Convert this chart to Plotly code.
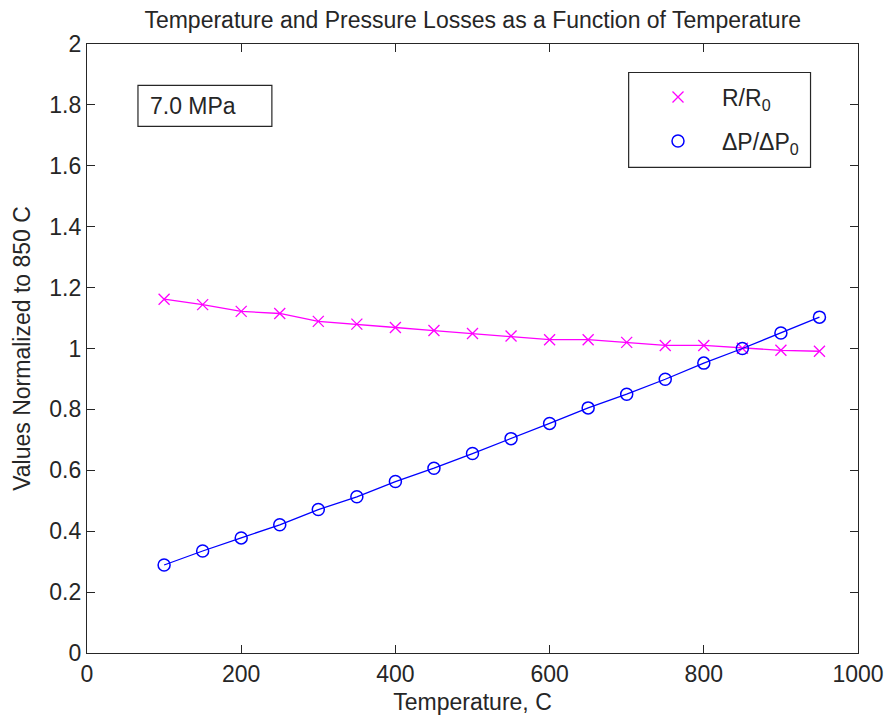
import plotly.graph_objects as go

# Temperature sweep (C)
temperature = [100, 150, 200, 250, 300, 350, 400, 450, 500,
               550, 600, 650, 700, 750, 800, 850, 900, 950]

# Resistance ratio R/R0, normalized at 850 C
r_ratio = [1.162, 1.144, 1.122, 1.115, 1.089, 1.080, 1.069, 1.059, 1.049,
           1.041, 1.029, 1.029, 1.020, 1.010, 1.010, 1.001, 0.994, 0.991]

# Pressure-drop ratio dP/dP0, normalized at 850 C
dp_ratio = [0.289, 0.335, 0.378, 0.421, 0.471, 0.513, 0.563, 0.607, 0.655,
            0.704, 0.754, 0.805, 0.850, 0.899, 0.952, 1.000, 1.051, 1.103]

x_ticks = [0, 200, 400, 600, 800, 1000]
y_ticks = [0, 0.2, 0.4, 0.6, 0.8, 1, 1.2, 1.4, 1.6, 1.8, 2]

W, H = 891, 719
L, R, T, B = 87, 32.5, 43.5, 66
PW, PH = W - L - R, H - T - B

MAGENTA = "#ff00ff"
BLUE = "#0000ff"
INK = "#262626"
FONT = "Liberation Sans, Arial, sans-serif"
FS = 23


def px_x(p):
    return (p - L) / PW


def px_y(p):
    return (H - B - p) / PH


fig = go.Figure()

fig.add_trace(go.Scatter(
    x=temperature, y=r_ratio, mode="lines+markers", showlegend=False,
    line=dict(color=MAGENTA, width=1.3),
    marker=dict(symbol="x-thin-open", size=11, color=MAGENTA,
                line=dict(color=MAGENTA, width=1.3)),
))
fig.add_trace(go.Scatter(
    x=temperature, y=dp_ratio, mode="lines+markers", showlegend=False,
    line=dict(color=BLUE, width=1.3),
    marker=dict(symbol="circle-open", size=12, color=BLUE,
                line=dict(color=BLUE, width=1.5)),
))

# legend entries show the marker only
fig.add_trace(go.Scatter(
    x=[None], y=[None], mode="markers", name="R/R<sub>0</sub>", legend="legend",
    marker=dict(symbol="x-thin-open", size=11, color=MAGENTA,
                line=dict(color=MAGENTA, width=1.3)),
))
fig.add_trace(go.Scatter(
    x=[None], y=[None], mode="markers", name="ΔP/ΔP<sub>0</sub>", legend="legend2",
    marker=dict(symbol="circle-open", size=12, color=BLUE,
                line=dict(color=BLUE, width=1.5)),
))

axis_common = dict(
    showgrid=False, zeroline=False, showline=True, linecolor=INK,
    linewidth=1.2, mirror="ticks", ticks="inside", ticklen=8,
    tickcolor=INK, tickwidth=1.2,
    tickfont=dict(family=FONT, size=FS, color=INK),
)

legend_common = dict(
    xanchor="left", xref="container", yanchor="middle", yref="container",
    bgcolor="rgba(0,0,0,0)", borderwidth=0, itemwidth=78,
    font=dict(family=FONT, size=FS, color=INK),
)

fig.update_layout(
    width=W, height=H,
    margin=dict(l=L, r=R, t=T, b=B, autoexpand=False),
    paper_bgcolor="white", plot_bgcolor="white",
    font=dict(family=FONT, size=FS, color=INK),
    title=dict(text="Temperature and Pressure Losses as a Function of Temperature",
               x=(L + PW / 2) / W, xanchor="center", y=1 - 20 / H, yanchor="middle",
               font=dict(family=FONT, size=FS, color=INK)),
    xaxis=dict(range=[0, 1000], tickvals=x_ticks,
               ticktext=[str(v) for v in x_ticks],
               title=dict(text="Temperature, C", standoff=8,
                          font=dict(family=FONT, size=FS)),
               **axis_common),
    yaxis=dict(range=[0, 2], tickvals=y_ticks,
               ticktext=[f"{v:g}" for v in y_ticks],
               title=dict(text="Values Normalized to 850 C", standoff=12,
                          font=dict(family=FONT, size=FS)),
               **axis_common),
    legend=dict(x=634 / W, y=1 - 97 / H, **legend_common),
    legend2=dict(x=634 / W, y=1 - 141 / H, **legend_common),
    shapes=[
        # legend frame
        dict(type="rect", xref="paper", yref="paper",
             x0=px_x(629), x1=px_x(811), y0=px_y(167), y1=px_y(72),
             line=dict(color=INK, width=1.2), fillcolor="white", layer="below"),
        # pressure label frame
        dict(type="rect", xref="paper", yref="paper",
             x0=px_x(138), x1=px_x(272), y0=px_y(126), y1=px_y(85),
             line=dict(color=INK, width=1.2), fillcolor="white", layer="below"),
    ],
    annotations=[
        dict(text="7.0 MPa", xref="paper", yref="paper",
             x=px_x(148), y=px_y(105.5), xanchor="left", yanchor="middle",
             showarrow=False, font=dict(family=FONT, size=FS, color=INK)),
    ],
)

fig.write_html("out.html")
